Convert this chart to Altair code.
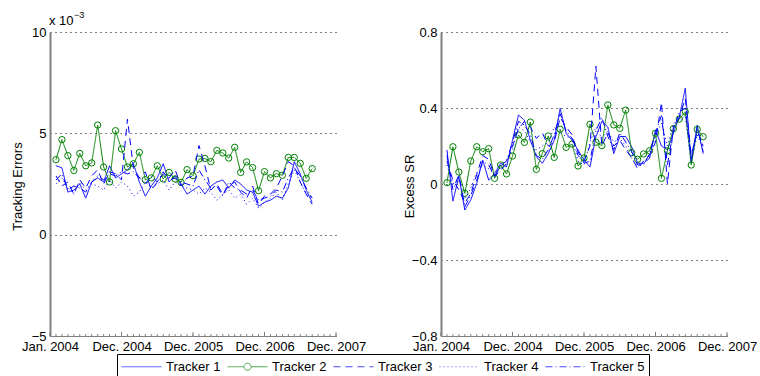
import altair as alt
import pandas as pd

# ---------------- data ----------------
months = list(range(1, 45))
trackers = ["Tracker 1", "Tracker 2", "Tracker 3", "Tracker 4", "Tracker 5"]

# Tracking errors (x 10^-3)
te1 = [3.4, 3.3, 2.1, 2.2, 2.5, 1.8, 2.6, 2.8, 2.6, 3.4, 2.8, 3.0, 3.2, 3.5, 2.6, 1.9, 2.4, 2.8, 3.5, 2.6,
       2.9, 2.5, 2.0, 2.2, 2.4, 2.0, 2.4, 2.6, 2.7, 2.3, 2.7, 2.5, 2.2, 2.1, 1.4, 1.6, 1.7, 1.9, 1.8, 2.3,
       3.6, 3.0, 2.2, 1.6]
te2 = [3.70, 4.69, 3.90, 3.17, 4.01, 3.40, 3.54, 5.41, 3.34, 2.60, 5.13, 4.23, 3.34, 3.50, 4.06, 2.71,
       2.80, 3.40, 2.75, 3.07, 2.75, 2.58, 3.21, 2.91, 3.73, 3.76, 3.60, 4.16, 4.03, 3.78, 4.31, 3.07,
       3.59, 3.31, 2.17, 3.11, 2.80, 3.01, 2.93, 3.81, 3.81, 3.52, 2.78, 3.26]
te3 = [2.9, 2.4, 2.6, 2.0, 2.7, 2.3, 2.9, 3.2, 2.5, 3.1, 3.0, 2.7, 5.7, 3.3, 2.8, 3.1, 2.2, 2.6, 3.0, 2.8,
       3.2, 2.4, 2.8, 2.9, 4.4, 3.4, 2.2, 2.5, 2.0, 2.4, 2.6, 2.1, 1.8, 2.4, 1.5, 1.9, 2.0, 2.3, 2.9, 3.6,
       3.4, 2.6, 2.0, 1.5]
te4 = [2.5, 2.8, 2.3, 2.0, 2.6, 2.2, 2.5, 2.4, 2.2, 2.7, 2.3, 2.6, 2.4, 1.9, 2.1, 2.6, 2.3, 2.5, 2.7, 2.2,
       2.6, 2.4, 2.3, 2.2, 2.0, 2.3, 2.1, 1.7, 2.0, 2.2, 1.8, 2.0, 1.5, 1.8, 1.3, 1.6, 1.8, 2.1, 1.7, 2.5,
       3.2, 2.6, 2.0, 1.8]
te5 = [2.7, 3.0, 2.2, 2.4, 2.3, 2.1, 2.6, 2.9, 2.7, 3.0, 2.9, 3.1, 3.0, 3.1, 2.8, 2.5, 2.9, 2.6, 3.1, 2.7,
       2.8, 2.6, 2.5, 2.4, 3.2, 2.7, 2.3, 2.4, 1.9, 2.6, 2.3, 2.2, 2.0, 2.2, 1.7, 1.8, 1.9, 2.2, 2.1, 2.8,
       3.3, 2.9, 2.3, 1.8]

# Excess Sharpe ratio
sr1 = [0.179, -0.09, 0.04, -0.137, -0.084, 0.004, 0.126, 0.02, 0.056, 0.109, 0.09, 0.23, 0.363, 0.336,
       0.23, 0.144, 0.109, 0.16, 0.23, 0.398, 0.267, 0.23, 0.179, 0.126, 0.09, 0.249, 0.33, 0.3, 0.16,
       0.25, 0.25, 0.196, 0.109, 0.109, 0.135, 0.284, 0.2, 0.179, 0.267, 0.354, 0.504, 0.109, 0.31, 0.16]
sr2 = [0.007, 0.196, 0.063, -0.049, 0.121, 0.196, 0.17, 0.186, 0.03, 0.1, 0.053, 0.147, 0.258, 0.219,
       0.326, 0.077, 0.16, 0.253, 0.14, 0.288, 0.193, 0.21, 0.095, 0.137, 0.314, 0.22, 0.202, 0.416,
       0.311, 0.293, 0.389, 0.165, 0.13, 0.158, 0.175, 0.267, 0.03, 0.175, 0.291, 0.342, 0.38, 0.1,
       0.288, 0.249]
sr3 = [0.12, 0.02, -0.03, -0.1, -0.05, 0.05, 0.15, 0.13, 0.04, 0.07, 0.11, 0.2, 0.29, 0.33, 0.3, 0.24,
       0.27, 0.2, 0.22, 0.35, 0.3, 0.26, 0.15, 0.12, 0.2, 0.62, 0.2, 0.27, 0.2, 0.23, 0.18, 0.14, 0.08,
       0.12, 0.15, 0.22, 0.43, 0.0, 0.3, 0.35, 0.45, 0.15, 0.28, 0.2]
sr4 = [0.1, 0.0, 0.02, -0.08, -0.02, 0.06, 0.1, 0.08, 0.05, 0.09, 0.13, 0.18, 0.3, 0.28, 0.22, 0.18,
       0.2, 0.22, 0.3, 0.27, 0.25, 0.24, 0.12, 0.1, 0.22, 0.3, 0.24, 0.28, 0.22, 0.24, 0.2, 0.13, 0.1,
       0.12, 0.14, 0.25, 0.32, 0.2, 0.32, 0.33, 0.36, 0.12, 0.26, 0.18]
sr5 = [0.15, -0.03, 0.05, -0.12, -0.06, 0.02, 0.12, 0.1, 0.04, 0.1, 0.12, 0.22, 0.33, 0.31, 0.26, 0.15,
       0.13, 0.18, 0.26, 0.37, 0.28, 0.24, 0.17, 0.11, 0.12, 0.28, 0.35, 0.25, 0.18, 0.27, 0.22, 0.17,
       0.1, 0.1, 0.16, 0.27, 0.36, 0.1, 0.28, 0.38, 0.4, 0.13, 0.3, 0.17]

x_tick_values = [0, 12, 24, 36, 48]
x_tick_labels = ["Jan. 2004", "Dec. 2004", "Dec. 2005", "Dec. 2006", "Dec. 2007"]
minor_ticks = list(range(0, 49))
te_ticks = [-5, 0, 5, 10]
sr_ticks = [-0.8, -0.4, 0, 0.4, 0.8]
exponent_base = ["x 10"]
exponent_power = ["\u22123"]

TE = [te1, te2, te3, te4, te5]
SR = [sr1, sr2, sr3, sr4, sr5]
rows = []
for k, name in enumerate(trackers):
    for i, m in enumerate(months):
        rows.append({"t": m, "tracker": name, "te": TE[k][i], "sr": SR[k][i]})
df = pd.DataFrame(rows)

# ---------------- styles ----------------
FONT = "Liberation Sans"
FS = 13
colors = ["#0000FF", "#008000", "#0000FF", "#0000FF", "#0000FF"]
dashes = [[1, 0], [1, 0], [7, 5], [1, 3], [7, 3, 1, 3]]
# legend symbols: 40px long line (unit = 8px), reserved box is 16px wide
line_path = "M-1,0H4"
circ = ("M-1,0H1.06M1.94,0H4M1.94,0A0.44,0.44,0,1,1,1.06,0"
        "A0.44,0.44,0,1,1,1.94,0")
paths = [line_path, circ, line_path, line_path, line_path]
SYM = 256

W, H = 286, 304
GAP = 105
xscale = alt.Scale(domain=[0, 48], nice=False, zero=False)
xlab_expr = "[" + ",".join("'%s'" % s for s in x_tick_labels) + "][round(datum.value/12)]"
xaxis = alt.Axis(values=x_tick_values, labelExpr=xlab_expr, ticks=False, grid=False,
                 labelFlush=False, labelOverlap=False, labelPadding=4,
                 domainColor="#808080", domainWidth=1, title=None)


def make_panel(field, dom, ticks, title, title_x, lab_expr, extra=None):
    yscale = alt.Scale(domain=dom, nice=False, zero=False)
    yaxis = alt.Axis(values=ticks, labelExpr=lab_expr, ticks=False, grid=True,
                     gridDash=[1, 4], gridColor="#000000", gridWidth=1,
                     domainColor="#808080", domainWidth=2, labelPadding=4,
                     title=title, titleX=title_x, titleY=H / 2 + 2, titleAngle=-90,
                     titleAlign="center", titleBaseline="middle")
    X = alt.X("t:Q", scale=xscale, axis=xaxis)
    Y = alt.Y(field + ":Q", scale=yscale, axis=yaxis)
    layers = []
    tick_df = pd.DataFrame({"m": minor_ticks})
    major_df = pd.DataFrame({"m": x_tick_values})
    layers.append(alt.Chart(tick_df).mark_rule(color="#808080", strokeWidth=1).encode(
        x=alt.X("m:Q", scale=xscale, axis=xaxis), y=alt.value(H), y2=alt.value(H - 2)))
    layers.append(alt.Chart(major_df).mark_rule(color="#808080", strokeWidth=1).encode(
        x=alt.X("m:Q", scale=xscale, axis=xaxis), y=alt.value(H), y2=alt.value(H - 4)))
    for k, name in enumerate(trackers):
        base = alt.Chart(df).transform_filter(alt.datum.tracker == name)
        layers.append(base.mark_line(color=colors[k], strokeDash=dashes[k], strokeWidth=1).encode(x=X, y=Y))
        if k == 1:
            layers.append(base.mark_point(shape="circle", filled=False, color=colors[k],
                                          strokeWidth=1, size=40, opacity=1).encode(x=X, y=Y))
    if extra is not None:
        layers.extend(extra(X, Y))
    return alt.layer(*layers).properties(width=W, height=H)


def left_extra(X, Y):
    leg = alt.Legend(title=None, orient="none", legendX=67, legendY=322, direction="horizontal",
                     symbolSize=SYM, symbolStrokeWidth=1, labelFont=FONT, labelFontSize=FS,
                     labelColor="#000000", strokeColor="#000000", fillColor="#ffffff",
                     padding=4, columnPadding=4, labelOffset=28, symbolOffset=0)
    legend_layer = alt.Chart(df).transform_filter("datum.t < 0").mark_point(
        filled=False, strokeWidth=1, size=SYM).encode(
        x=X, y=Y,
        color=alt.Color("tracker:N", scale=alt.Scale(domain=trackers, range=colors), legend=leg),
        strokeDash=alt.StrokeDash("tracker:N", scale=alt.Scale(domain=trackers, range=dashes), legend=leg),
        shape=alt.Shape("tracker:N", scale=alt.Scale(domain=trackers, range=paths), legend=leg),
    )
    t1 = alt.Chart(pd.DataFrame({"s": exponent_base})).mark_text(
        align="left", baseline="alphabetic", font=FONT, fontSize=FS, color="#000000").encode(
        x=alt.value(-1), y=alt.value(-7), text="s:N")
    t2 = alt.Chart(pd.DataFrame({"s": exponent_power})).mark_text(
        align="left", baseline="alphabetic", font=FONT, fontSize=9, color="#000000").encode(
        x=alt.value(24), y=alt.value(-14), text="s:N")
    # invisible frame fixing the overall bounds to the 760x376 canvas
    frame = alt.Chart(pd.DataFrame({"s": exponent_base})).mark_rule(
        strokeOpacity=0, strokeWidth=1).encode(
        x=alt.value(-49.5), x2=alt.value(709.5), y=alt.value(-31.5), y2=alt.value(343.5))
    return [legend_layer, t1, t2, frame]


left = make_panel("te", [-5, 10], te_ticks, "Tracking Errors", -33,
                  "replace(datum.label, '-', '\u2212')", left_extra)
right = make_panel("sr", [-0.8, 0.8], sr_ticks, "Excess SR", -32,
                   "datum.value == 0 ? '0' : replace(format(datum.value, '.1f'), '-', '\u2212')")

chart = alt.hconcat(left, right, spacing=GAP, bounds="flush").properties(
    padding=0,
).configure_view(strokeWidth=0).configure_axis(
    labelFont=FONT, labelFontSize=FS, labelColor="#000000",
    titleFont=FONT, titleFontSize=FS, titleFontWeight="normal", titleColor="#000000",
).configure_legend(cornerRadius=0)

chart.save("out.html", embed_options={"renderer": "svg", "actions": False})
